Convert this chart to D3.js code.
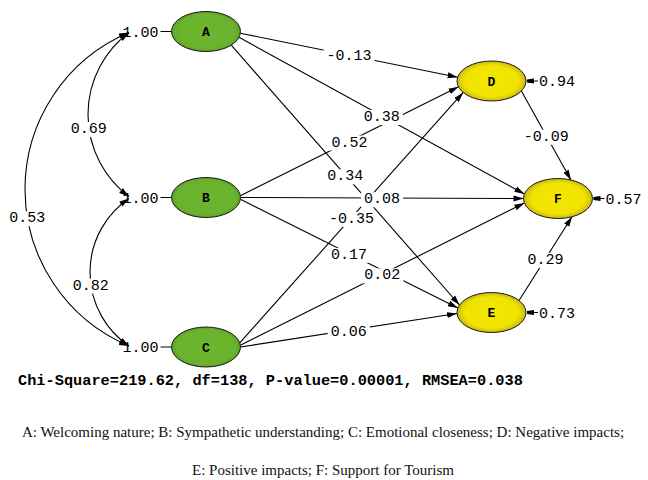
<!DOCTYPE html>
<html>
<head>
<meta charset="utf-8">
<script src="https://cdn.jsdelivr.net/npm/d3@7"></script>
<style>
  body { margin: 0; background: #fff; }
  svg { display: block; }
</style>
</head>
<body>
<svg id="chart" width="648" height="480"></svg>
<script>
// ---- Model estimates ----
const latentNodes = ["A", "B", "C", "D", "E", "F"];
const exogenous = ["A", "B", "C"];
const exoVariances = [1.00, 1.00, 1.00];

const covFrom = ["A", "B", "A"];
const covTo = ["B", "C", "C"];
const covValues = [0.69, 0.82, 0.53];

const pathFrom = ["A", "A", "A", "B", "B", "B", "C", "C", "C", "D", "E"];
const pathTo   = ["D", "F", "E", "D", "F", "E", "D", "F", "E", "F", "F"];
const pathValues = [-0.13, 0.38, 0.34, 0.52, 0.08, 0.17, -0.35, 0.02, 0.06, -0.09, 0.29];

const residualNodes = ["D", "F", "E"];
const residualValues = [0.94, 0.57, 0.73];

const fitNames = ["Chi-Square", "df", "P-value", "RMSEA"];
const fitValues = ["219.62", "138", "0.00001", "0.038"];

const legendLines = [
  "A: Welcoming nature; B: Sympathetic understanding; C: Emotional closeness; D: Negative impacts;",
  "E: Positive impacts; F: Support for Tourism"
];

// ---- Layout ----
const nodeX = d3.scaleOrdinal().domain(latentNodes).range([206, 206, 206, 491.5, 491.5, 558]);
const nodeY = d3.scaleOrdinal().domain(latentNodes).range([31.5, 197.5, 347, 81, 312.5, 198.5]);
const nodeFill = d3.scaleOrdinal().domain(latentNodes)
  .range(["green", "green", "green", "yellow", "yellow", "yellow"]);
const RX = 34.5, RY = 20;

// attachment angles (degrees on the ellipse) for each structural path: [source, target]
const pathPorts = [[5, 191], [17, 193], [43, 202], [-5, 163], [0, 180], [5, 193],
                   [-12, 145], [-5, 167], [0, 177], [30, 292], [-37, 66]];
// left-most x reached by each covariance arc
const covBulge = [88, 90, 25];
const covAnchorX = 129;       // where the double-headed arcs meet the variance labels
const labelFont = "'Liberation Mono', 'Courier New', monospace";

const fmt = v => v.toFixed(2);
const port = (id, deg) => {
  const a = deg * Math.PI / 180;
  return [nodeX(id) + RX * Math.cos(a), nodeY(id) + RY * Math.sin(a)];
};

const svg = d3.select("#chart");
const defs = svg.append("defs");

defs.append("marker")
  .attr("id", "head").attr("viewBox", "0 -4 10 8")
  .attr("refX", 10).attr("refY", 0)
  .attr("markerUnits", "userSpaceOnUse")
  .attr("markerWidth", 10).attr("markerHeight", 8)
  .attr("orient", "auto-start-reverse")
  .append("path").attr("d", "M0,-3L10,0L0,3Z").attr("fill", "#000");

defs.append("marker")
  .attr("id", "smallhead").attr("viewBox", "0 -4 8 8")
  .attr("refX", 7).attr("refY", 0)
  .attr("markerUnits", "userSpaceOnUse")
  .attr("markerWidth", 8).attr("markerHeight", 8)
  .attr("orient", "auto")
  .append("path").attr("d", "M0,-2.5L7,-1.5L7,1.5L0,2.5Z").attr("fill", "#000");

const gGreen = defs.append("radialGradient").attr("id", "green");
gGreen.append("stop").attr("offset", "0%").attr("stop-color", "#6db52f");
gGreen.append("stop").attr("offset", "85%").attr("stop-color", "#6ab32d");
gGreen.append("stop").attr("offset", "100%").attr("stop-color", "#5fa028");

const gYellow = defs.append("radialGradient").attr("id", "yellow");
gYellow.append("stop").attr("offset", "0%").attr("stop-color", "#f3e800");
gYellow.append("stop").attr("offset", "78%").attr("stop-color", "#f0e300");
gYellow.append("stop").attr("offset", "100%").attr("stop-color", "#c9b912");

const lineLayer = svg.append("g");
const labelLayer = svg.append("g");
const nodeLayer = svg.append("g");

function addLabel(x, y, text, anchor = "middle", bg = true) {
  const g = labelLayer.append("g");
  const t = g.append("text")
    .attr("x", x).attr("y", y).attr("dy", "0.35em")
    .attr("text-anchor", anchor)
    .attr("font-family", labelFont)
    .attr("font-size", 15)
    .attr("fill", "#000")
    .text(text);
  if (bg) {
    const b = t.node().getBBox();
    g.insert("rect", "text")
      .attr("x", b.x - 3).attr("y", b.y + 1)
      .attr("width", b.width + 6).attr("height", b.height - 2)
      .attr("fill", "#fff");
  }
}

// ---- Structural paths ----
pathValues.forEach((v, i) => {
  const [p0, p1] = [port(pathFrom[i], pathPorts[i][0]), port(pathTo[i], pathPorts[i][1])];
  lineLayer.append("line")
    .attr("x1", p0[0]).attr("y1", p0[1]).attr("x2", p1[0]).attr("y2", p1[1])
    .attr("stroke", "#000").attr("stroke-width", 1.1)
    .attr("marker-end", "url(#head)");
  addLabel((p0[0] + p1[0]) / 2, (p0[1] + p1[1]) / 2, fmt(v));
});

// ---- Covariances among exogenous factors ----
covValues.forEach((v, i) => {
  const y0 = nodeY(covFrom[i]) + 1, y1 = nodeY(covTo[i]) - 1;
  const chord = y1 - y0, sag = covAnchorX - covBulge[i];
  const R = (sag * sag + (chord / 2) * (chord / 2)) / (2 * sag);
  const cx = covBulge[i] + R, cy = (y0 + y1) / 2;
  lineLayer.append("path")
    .attr("d", `M${covAnchorX},${y0} A${R},${R} 0 0 0 ${covAnchorX},${y1}`)
    .attr("fill", "none").attr("stroke", "#000").attr("stroke-width", 1.1)
    .attr("marker-start", "url(#head)").attr("marker-end", "url(#head)");
  const a0 = Math.atan2(y0 - cy, covAnchorX - cx);
  const a1 = Math.atan2(y1 - cy, covAnchorX - cx);
  const a0u = a0 < 0 ? a0 + 2 * Math.PI : a0;
  const at = a0u + (a1 - a0u) * 0.57;
  addLabel(cx + R * Math.cos(at), cy + R * Math.sin(at), fmt(v));
});

// ---- Variances of exogenous factors ----
exogenous.forEach((id, i) => {
  const x = nodeX(id) - RX, y = nodeY(id);
  lineLayer.append("line")
    .attr("x1", x - 11).attr("x2", x).attr("y1", y).attr("y2", y)
    .attr("stroke", "#000").attr("stroke-width", 1);
  addLabel(x - 13, y, fmt(exoVariances[i]), "end", false);
});

// ---- Residual variances of endogenous factors ----
residualNodes.forEach((id, i) => {
  const x = nodeX(id) + RX, y = nodeY(id);
  lineLayer.append("line")
    .attr("x1", x + 12).attr("x2", x + 1).attr("y1", y).attr("y2", y)
    .attr("stroke", "#000").attr("stroke-width", 1)
    .attr("marker-end", "url(#smallhead)");
  addLabel(x + 13, y, fmt(residualValues[i]), "start", false);
});

// ---- Latent factors ----
const nodes = nodeLayer.selectAll("g.node").data(latentNodes).join("g")
  .attr("transform", d => `translate(${nodeX(d)},${nodeY(d)})`);
nodes.append("ellipse")
  .attr("rx", RX).attr("ry", RY)
  .attr("fill", d => `url(#${nodeFill(d)})`)
  .attr("stroke", "#1a1a1a").attr("stroke-width", 1);
nodes.append("text")
  .attr("dy", "0.35em").attr("text-anchor", "middle")
  .attr("font-family", labelFont).attr("font-weight", "bold").attr("font-size", 13)
  .text(d => d);

// ---- Fit statistics ----
svg.append("text")
  .attr("x", 18).attr("y", 385)
  .attr("font-family", labelFont).attr("font-weight", "bold").attr("font-size", 15.3)
  .text(fitNames.map((n, i) => `${n}=${fitValues[i]}`).join(", "));

// ---- Factor key ----
svg.selectAll("text.key").data(legendLines).join("text")
  .attr("class", "key")
  .attr("x", 323).attr("y", (d, i) => 437 + i * 38)
  .attr("text-anchor", "middle")
  .attr("font-family", "'Liberation Serif', 'Times New Roman', serif")
  .attr("font-size", 15)
  .attr("fill", "#111")
  .text(d => d);
</script>
</body>
</html>
